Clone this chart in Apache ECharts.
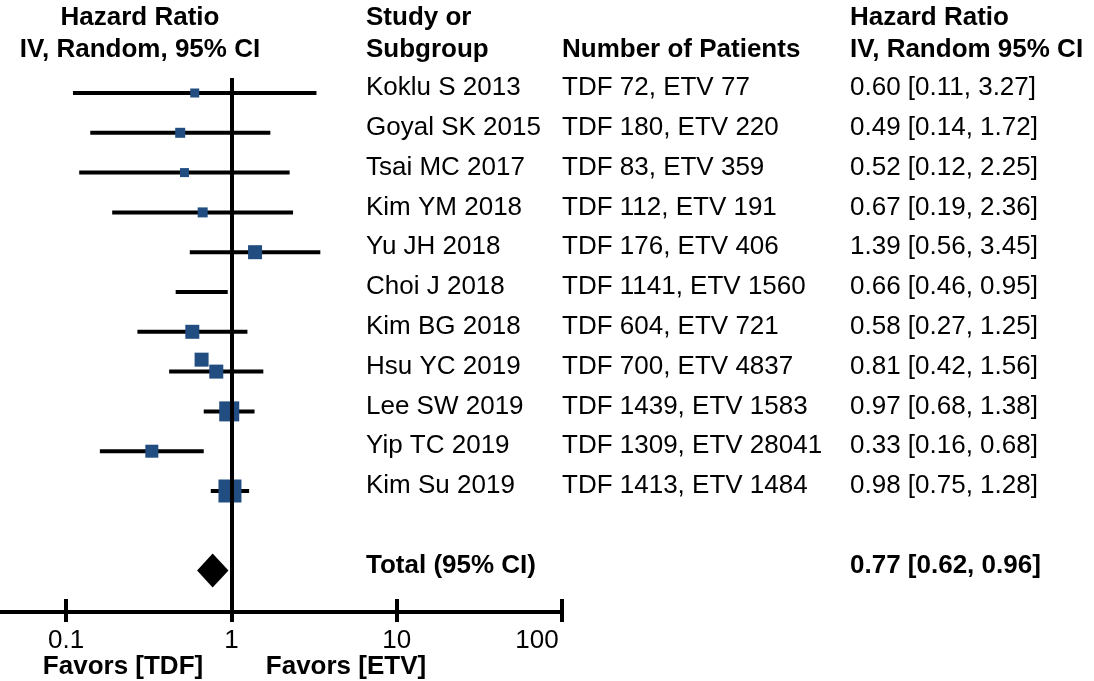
<!DOCTYPE html>
<html>
<head>
<meta charset="utf-8">
<script src="https://cdn.jsdelivr.net/npm/echarts@6/dist/echarts.min.js"></script>
<style>html,body{margin:0;padding:0;background:#fff}#c{width:1094px;height:681px}</style>
</head>
<body>
<div id="c"></div>
<script>
// ---- data ----
const studies = ['Koklu S 2013','Goyal SK 2015','Tsai MC 2017','Kim YM 2018','Yu JH 2018','Choi J 2018','Kim BG 2018','Hsu YC 2019','Lee SW 2019','Yip TC 2019','Kim Su 2019'];
const patients = ['TDF 72, ETV 77','TDF 180, ETV 220','TDF 83, ETV 359','TDF 112, ETV 191','TDF 176, ETV 406','TDF 1141, ETV 1560','TDF 604, ETV 721','TDF 700, ETV 4837','TDF 1439, ETV 1583','TDF 1309, ETV 28041','TDF 1413, ETV 1484'];
const hr    = [0.60, 0.49, 0.52, 0.67, 1.39, 0.66, 0.58, 0.81, 0.97, 0.33, 0.98];
const lower = [0.11, 0.14, 0.12, 0.19, 0.56, 0.46, 0.27, 0.42, 0.68, 0.16, 0.75];
const upper = [3.27, 1.72, 2.25, 2.36, 3.45, 0.95, 1.25, 1.56, 1.38, 0.68, 1.28];
const weightBox = [9, 10, 9, 10, 14, 14, 14, 14, 20, 13, 23];   // relative study weight (box side)
const totalLabel = 'Total (95% CI)';
const totalHR = [0.77, 0.62, 0.96];                               // estimate, lower, upper
const tickValues = [0.1, 1, 10, 100];
const tickLabels = ['0.1', '1', '10', '100'];

// ---- layout helpers ----
const FONT = '"Liberation Sans", Arial, sans-serif';
const FS = 26;
const ROW_PX = 39.8;
const TOTAL_ROW = 12;
const Y_MIN = -15 / ROW_PX, Y_MAX = 519 / ROW_PX;
const colOffsets = [0, 196, 484];
const markerRowShift = {5: 1.7}; // reference draws Choi J's box displaced downward
const fmt = v => v.toFixed(2);
const hrText = i => fmt(hr[i]) + ' [' + fmt(lower[i]) + ', ' + fmt(upper[i]) + ']';
const L = Math.log10;
const tickLog = tickValues.map(L);

const studyData = studies.map((s, i) => [L(lower[i]), L(upper[i]), L(hr[i]), i, weightBox[i], markerRowShift[i] || 0]);

function textSeries(col, items, bold) {
  return {
    type: 'scatter', xAxisIndex: 2, yAxisIndex: 1, symbolSize: 0, silent: true,
    itemStyle: {opacity: 1},
    data: items.map(it => ({name: it[1], value: [colOffsets[col], it[0]]})),
    label: {show: true, position: 'right', distance: 0, formatter: '{b}', color: '#000', opacity: 1,
            fontSize: FS, fontFamily: FONT, fontWeight: bold ? 'bold' : 'normal'}
  };
}

function tickLabel(v) {
  let k = 0, d = 1e9;
  tickLog.forEach((t, j) => { if (Math.abs(t - v) < d) { d = Math.abs(t - v); k = j; } });
  return k === tickLog.length - 1 ? '{last|' + tickLabels[k] + '}' : tickLabels[k];
}

const chart = echarts.init(document.getElementById('c'), null, {renderer: 'canvas'});
chart.setOption({
  animation: false,
  backgroundColor: '#fff',
  grid: [
    {left: 0, right: 532, top: 78, bottom: 69},
    {left: 366, right: 0, top: 73, bottom: 74}
  ],
  xAxis: [
    {gridIndex: 0, type: 'value', min: -1.4, max: 2, position: 'bottom',
     axisLine: {show: true, onZero: false, lineStyle: {color: '#000', width: 4}},
     axisTick: {show: true, customValues: tickLog, length: 10, lineStyle: {color: '#000', width: 4}},
     axisLabel: {show: true, customValues: tickLog, margin: 16, color: '#000', fontSize: FS, fontFamily: FONT,
                 formatter: tickLabel,
                 rich: {last: {fontSize: FS, fontFamily: FONT, color: '#000', padding: [0, 50, 0, 0]}}},
     splitLine: {show: false}},
    {gridIndex: 0, type: 'value', min: -1.4, max: 2, position: 'bottom',
     axisLine: {show: false, onZero: false},
     axisTick: {show: true, inside: true, customValues: tickLog, length: 13, lineStyle: {color: '#000', width: 4}},
     axisLabel: {show: false}, splitLine: {show: false}},
    {gridIndex: 1, type: 'value', min: 0, max: 728, show: false}
  ],
  yAxis: [
    {gridIndex: 0, type: 'value', inverse: true, min: Y_MIN, max: Y_MAX, show: false},
    {gridIndex: 1, type: 'value', inverse: true, min: Y_MIN, max: Y_MAX, show: false}
  ],
  series: [
    {
      type: 'custom', xAxisIndex: 0, yAxisIndex: 0, z: 2, silent: true,
      data: [[L(totalHR[1]), L(totalHR[0]), L(totalHR[2]), TOTAL_ROW]],
      renderItem: (p, api) => {
        const a = api.coord([api.value(0), api.value(3)]);
        const m = api.coord([api.value(1), api.value(3)]);
        const b = api.coord([api.value(2), api.value(3)]);
        return {type: 'polygon', shape: {points: [[a[0], a[1]], [m[0], m[1] - 17], [b[0], b[1]], [m[0], m[1] + 17]]},
                style: {fill: '#000'}};
      },
      markLine: {silent: true, symbol: 'none', label: {show: false},
                 lineStyle: {color: '#000', width: 4, type: 'solid'},
                 data: [{xAxis: 0}]}
    },
    {
      type: 'custom', xAxisIndex: 0, yAxisIndex: 0, z: 3, silent: true,
      data: studyData,
      renderItem: (p, api) => {
        const lo = api.coord([api.value(0), api.value(3)]);
        const hi = api.coord([api.value(1), api.value(3)]);
        const c = api.coord([api.value(2), api.value(3) + api.value(5)]);
        const s = api.value(4);
        return {type: 'group', children: [
          {type: 'line', shape: {x1: lo[0], y1: lo[1], x2: hi[0], y2: hi[1]}, style: {stroke: '#000', lineWidth: 4}},
          {type: 'rect', shape: {x: c[0] - s / 2, y: c[1] - s / 2, width: s, height: s}, style: {fill: '#214d80'}}
        ]};
      }
    },
    textSeries(0, studies.map((s, i) => [i, s]), false),
    textSeries(1, patients.map((s, i) => [i, s]), false),
    textSeries(2, studies.map((s, i) => [i, hrText(i)]), false),
    textSeries(0, [[TOTAL_ROW, totalLabel]], true),
    textSeries(2, [[TOTAL_ROW, fmt(totalHR[0]) + ' [' + fmt(totalHR[1]) + ', ' + fmt(totalHR[2]) + ']']], true)
  ],
  graphic: [
    {type: 'text', x: 140, y: 18, style: {text: 'Hazard Ratio', align: 'center', verticalAlign: 'middle', font: 'bold 26px ' + FONT, fill: '#000'}},
    {type: 'text', x: 140, y: 50, style: {text: 'IV, Random, 95% CI', align: 'center', verticalAlign: 'middle', font: 'bold 26px ' + FONT, fill: '#000'}},
    {type: 'text', x: 366, y: 18, style: {text: 'Study or', align: 'left', verticalAlign: 'middle', font: 'bold 26px ' + FONT, fill: '#000'}},
    {type: 'text', x: 366, y: 50, style: {text: 'Subgroup', align: 'left', verticalAlign: 'middle', font: 'bold 26px ' + FONT, fill: '#000'}},
    {type: 'text', x: 562, y: 50, style: {text: 'Number of Patients', align: 'left', verticalAlign: 'middle', font: 'bold 26px ' + FONT, fill: '#000'}},
    {type: 'text', x: 850, y: 18, style: {text: 'Hazard Ratio', align: 'left', verticalAlign: 'middle', font: 'bold 26px ' + FONT, fill: '#000'}},
    {type: 'text', x: 850, y: 50, style: {text: 'IV, Random 95% CI', align: 'left', verticalAlign: 'middle', font: 'bold 26px ' + FONT, fill: '#000'}},
    {type: 'text', x: 123, y: 667, style: {text: 'Favors [TDF]', align: 'center', verticalAlign: 'middle', font: 'bold 26px ' + FONT, fill: '#000'}},
    {type: 'text', x: 346, y: 667, style: {text: 'Favors [ETV]', align: 'center', verticalAlign: 'middle', font: 'bold 26px ' + FONT, fill: '#000'}}
  ]
});
</script>
</body>
</html>
